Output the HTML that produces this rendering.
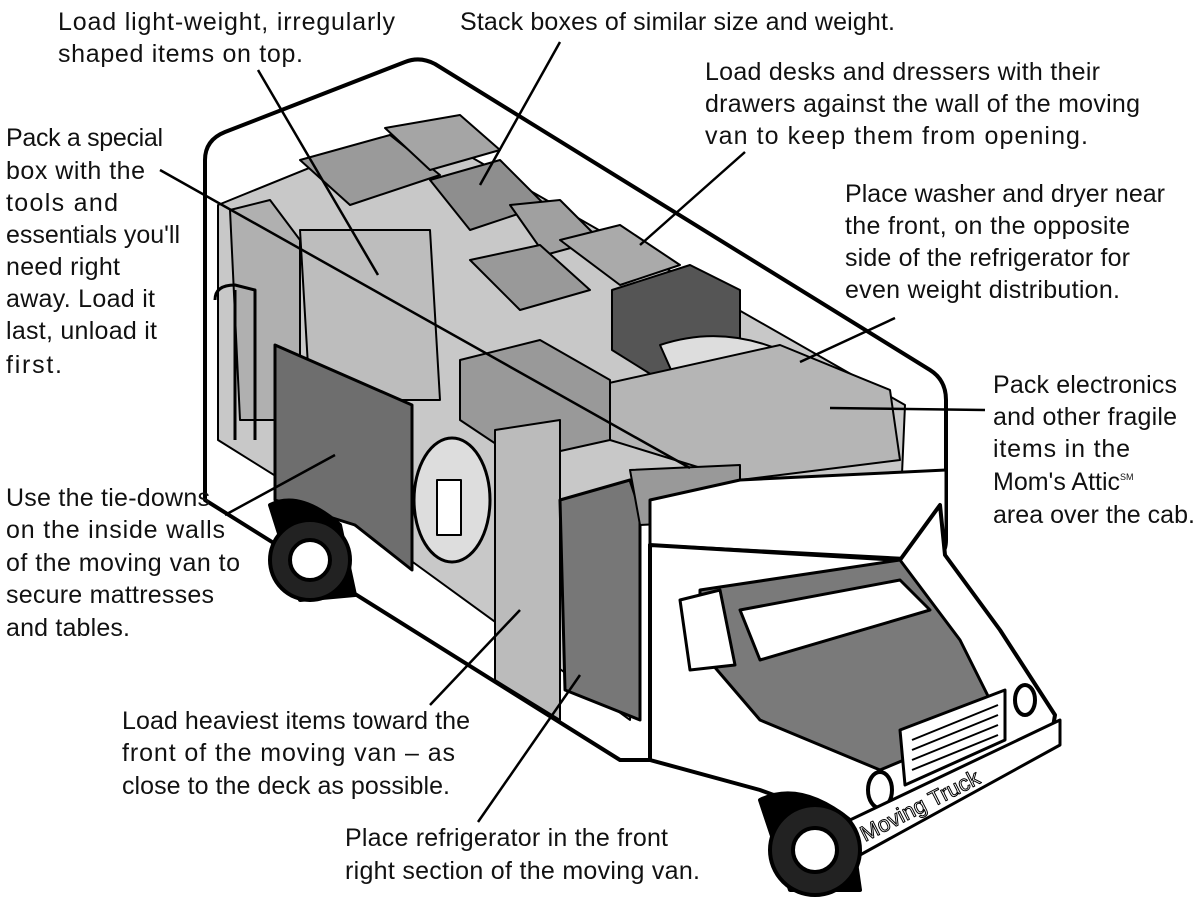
<!DOCTYPE html>
<html><head><meta charset="utf-8"><style>
html,body{margin:0;padding:0;background:#fff;}
svg{display:block}
text{font-family:"Liberation Sans",sans-serif;font-size:25px;fill:#111;}
</style></head><body>
<svg width="1202" height="911" viewBox="0 0 1202 911" xmlns="http://www.w3.org/2000/svg">
<g stroke="#000" stroke-width="4" stroke-linejoin="round">
<!-- van box outer -->
<path d="M205,160 Q205,140 225,132 L405,62 Q420,56 435,64 L930,370 Q946,380 946,400 L946,540 Q946,560 925,560 L650,545 L650,760 L620,760 L205,500 Z" fill="#fff"/>
<!-- interior -->
<path d="M218,205 L415,125 L905,405 L900,520 L640,480 L630,720 L410,560 L218,440 Z" fill="#c8c8c8" stroke-width="2"/>
<!-- boxes -->
<path d="M300,160 L390,135 L440,175 L350,205 Z" fill="#9a9a9a" stroke-width="2"/>
<path d="M385,128 L460,115 L500,150 L430,170 Z" fill="#a5a5a5" stroke-width="2"/>
<path d="M430,180 L500,160 L545,205 L470,230 Z" fill="#8e8e8e" stroke-width="2"/>
<path d="M510,205 L560,200 L600,240 L545,255 Z" fill="#a0a0a0" stroke-width="2"/>
<path d="M470,260 L540,245 L590,290 L520,310 Z" fill="#999" stroke-width="2"/>
<path d="M560,240 L620,225 L680,265 L620,285 Z" fill="#aaa" stroke-width="2"/>
<path d="M612,290 L690,265 L740,290 L740,350 L660,380 L612,350 Z" fill="#555" stroke-width="2"/>
<path d="M660,345 Q720,325 780,350 L770,385 L680,390 Z" fill="#ddd" stroke-width="2"/>
<path d="M600,385 L780,345 L890,390 L900,460 L740,480 L610,440 Z" fill="#b5b5b5" stroke-width="2"/>
<path d="M460,360 L540,340 L610,380 L610,440 L520,460 L460,420 Z" fill="#999" stroke-width="2"/>
<path d="M230,210 L270,200 L300,240 L300,420 L240,420 Z" fill="#b0b0b0" stroke-width="2"/>
<path d="M300,230 L430,230 L440,400 L310,400 Z" fill="#bdbdbd" stroke-width="2"/>
<!-- mattress -->
<path d="M275,345 L412,405 L412,570 L355,525 L275,500 Z" fill="#6e6e6e" stroke-width="3"/>
<!-- round table -->
<ellipse cx="452" cy="500" rx="38" ry="62" fill="#ddd" stroke-width="3"/>
<rect x="437" y="480" width="24" height="55" fill="#fff" stroke-width="2"/>
<!-- fridge stack -->
<path d="M495,430 L560,420 L560,720 L495,680 Z" fill="#bbb" stroke-width="2"/>
<path d="M560,500 L630,480 L640,510 L640,720 L565,690 Z" fill="#777" stroke-width="3"/>
<path d="M630,470 L740,465 L740,520 L640,525 Z" fill="#999" stroke-width="2"/>
<!-- hand truck -->
<path d="M215,300 Q215,285 235,285 L255,290 L255,440 M235,290 L235,440" fill="none" stroke-width="3"/>
<!-- attic -->
<path d="M650,545 L935,560 L946,540 L946,470 L740,480 L650,500 Z" fill="#fff" stroke-width="3"/>
<!-- cab -->
<path d="M650,545 L900,560 L940,505 L945,555 L1000,630 L1055,715 L1050,745 L870,830 L760,790 L650,760 Z" fill="#fff"/>
<path d="M700,590 L900,560 L960,640 L1000,720 L880,770 L760,720 L700,650 Z" fill="#7a7a7a" stroke-width="3"/>
<path d="M680,600 L720,590 L735,665 L690,670 Z" fill="#fff" stroke-width="3"/>
<path d="M740,610 L900,580 L930,610 L760,660 Z" fill="#fff" stroke-width="3"/>
<path d="M900,730 L1005,690 L1005,740 L905,785 Z" fill="#fff" stroke-width="3"/>
<g stroke-width="2"><line x1="912" y1="740" x2="998" y2="705"/><line x1="912" y1="750" x2="998" y2="715"/><line x1="912" y1="760" x2="998" y2="725"/><line x1="912" y1="770" x2="998" y2="735"/></g>
<ellipse cx="880" cy="790" rx="12" ry="18" fill="#fff"/>
<ellipse cx="1025" cy="700" rx="10" ry="15" fill="#fff"/>
<path d="M850,820 L1060,720 L1060,745 L860,855 Z" fill="#fff" stroke-width="3"/>
<text x="865" y="842" transform="rotate(-27 865 842)" style="font-size:22px;fill:#fff;stroke:#000;stroke-width:1">Moving Truck</text>
<!-- wheels -->
<path d="M270,505 Q300,490 340,525 L355,595 L300,600 Z" fill="#000"/>
<circle cx="310" cy="560" r="40" fill="#222"/><circle cx="310" cy="560" r="20" fill="#fff"/>
<path d="M760,800 Q800,780 850,820 L860,890 L790,890 Z" fill="#000"/>
<circle cx="815" cy="850" r="45" fill="#222"/><circle cx="815" cy="850" r="22" fill="#fff"/>
</g>
<!-- leader lines -->
<g stroke="#000" stroke-width="2.5">
<line x1="258" y1="70" x2="378" y2="275"/>
<line x1="560" y1="42" x2="480" y2="185"/>
<line x1="745" y1="152" x2="640" y2="245"/>
<line x1="895" y1="318" x2="800" y2="362"/>
<line x1="985" y1="410" x2="830" y2="408"/>
<line x1="160" y1="170" x2="690" y2="468"/>
<line x1="225" y1="515" x2="335" y2="455"/>
<line x1="430" y1="705" x2="520" y2="610"/>
<line x1="478" y1="822" x2="580" y2="675"/>
</g>
<!-- labels -->
<text x="58" y="30" textLength="337">Load light-weight, irregularly</text>
<text x="58" y="62" textLength="245">shaped items on top.</text>
<text x="460" y="30" textLength="435">Stack boxes of similar size and weight.</text>
<text x="705" y="80" textLength="395">Load desks and dressers with their</text>
<text x="705" y="112" textLength="435">drawers against the wall of the moving</text>
<text x="705" y="144" textLength="383">van to keep them from opening.</text>
<text x="845" y="202" textLength="320">Place washer and dryer near</text>
<text x="845" y="234" textLength="285">the front, on the opposite</text>
<text x="845" y="266" textLength="285">side of the refrigerator for</text>
<text x="845" y="298" textLength="275">even weight distribution.</text>
<text x="993" y="393" textLength="184">Pack electronics</text>
<text x="993" y="425" textLength="184">and other fragile</text>
<text x="993" y="457" textLength="137">items in the</text>
<text x="993" y="490">Mom's Attic<tspan style="font-size:9px" dy="-10">SM</tspan></text>
<text x="993" y="523" textLength="202">area over the cab.</text>
<text x="6" y="146" textLength="157">Pack a special</text>
<text x="6" y="179" textLength="139">box with the</text>
<text x="6" y="211" textLength="112">tools and</text>
<text x="6" y="243" textLength="174">essentials you'll</text>
<text x="6" y="275" textLength="114">need right</text>
<text x="6" y="307" textLength="149">away. Load it</text>
<text x="6" y="339" textLength="151">last, unload it</text>
<text x="6" y="373" textLength="56">first.</text>
<text x="6" y="506" textLength="204">Use the tie-downs</text>
<text x="6" y="538" textLength="219">on the inside walls</text>
<text x="6" y="571" textLength="234">of the moving van to</text>
<text x="6" y="603" textLength="208">secure mattresses</text>
<text x="6" y="636" textLength="124">and tables.</text>
<text x="122" y="729" textLength="348">Load heaviest items toward the</text>
<text x="122" y="761" textLength="333">front of the moving van – as</text>
<text x="122" y="794" textLength="328">close to the deck as possible.</text>
<text x="345" y="846" textLength="323">Place refrigerator in the front</text>
<text x="345" y="879" textLength="355">right section of the moving van.</text>
</svg>
</body></html>
